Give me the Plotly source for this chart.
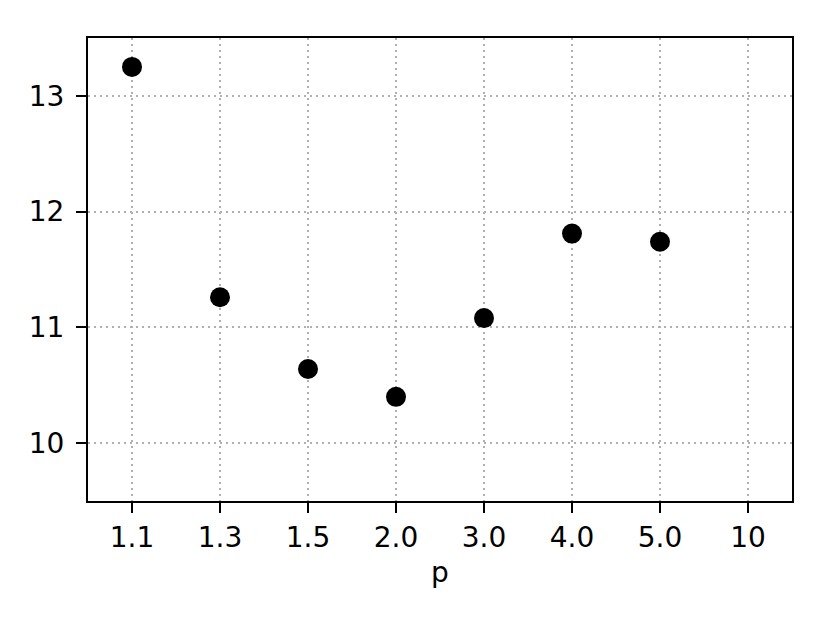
import plotly.graph_objects as go

categories = ["1.1", "1.3", "1.5", "2.0", "3.0", "4.0", "5.0", "10"]
values = [13.25, 11.26, 10.64, 10.40, 11.08, 11.81, 11.74, None]
y_ticks = [10, 11, 12, 13]

xs = list(range(len(categories)))

fig = go.Figure()
fig.add_trace(go.Scatter(
    x=xs, y=values, mode="markers",
    marker=dict(color="black", size=20, line=dict(width=0)),
    showlegend=False,
))

FONT = dict(family="DejaVu Sans", size=28, color="black")

axis_common = dict(
    showline=True, linecolor="black", linewidth=2.2, mirror=True,
    ticks="outside", ticklen=10, tickwidth=2.2, tickcolor="black",
    showgrid=True, gridcolor="#b0b0b0", griddash="2px,4px", gridwidth=2,
    zeroline=False,
    tickfont=FONT,
)

fig.update_layout(
    width=830, height=623,
    paper_bgcolor="white", plot_bgcolor="white",
    margin=dict(l=80, r=46, t=30, b=130),
    xaxis=dict(
        range=[-0.5, 7.5], tickmode="array", tickvals=xs, ticktext=categories,
        title=dict(text="p", font=FONT, standoff=10),
        **axis_common,
    ),
    yaxis=dict(
        range=[9.5, 13.5], tickmode="array", tickvals=y_ticks,
        ticktext=[str(v) for v in y_ticks],
        ticklabelstandoff=6,
        **axis_common,
    ),
)

fig.write_html("out.html")
